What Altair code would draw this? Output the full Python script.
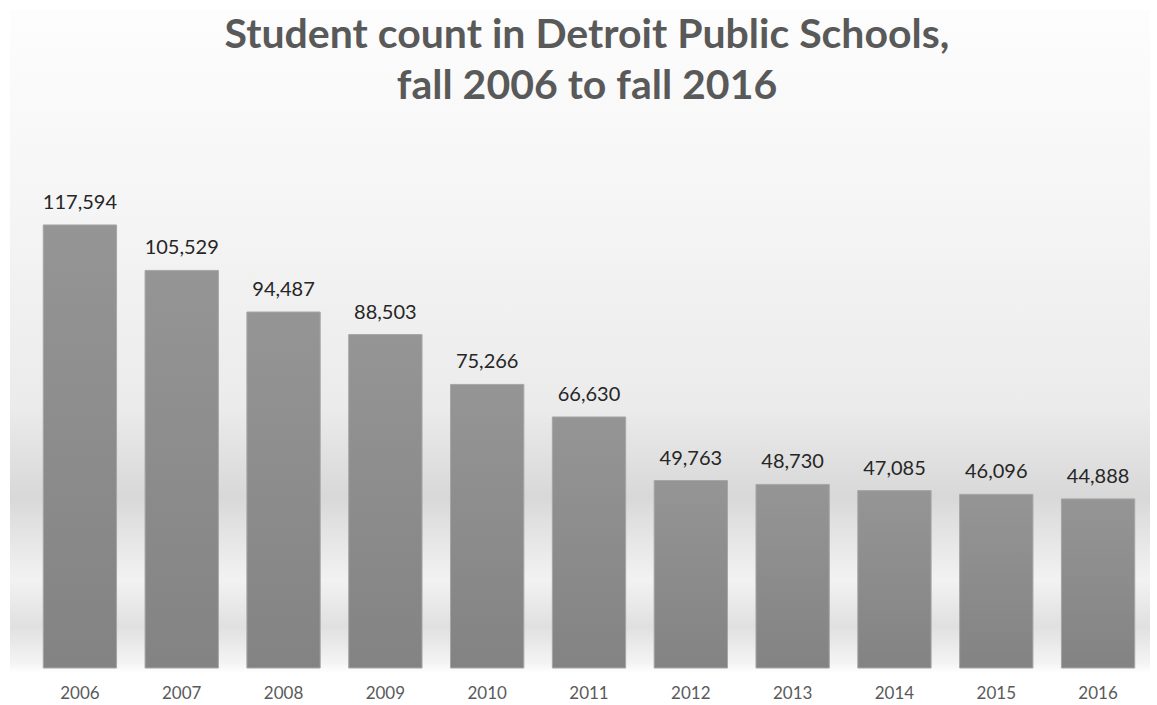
import altair as alt
import pandas as pd

years = ["2006", "2007", "2008", "2009", "2010", "2011", "2012", "2013", "2014", "2015", "2016"]
students = [117594, 105529, 94487, 88503, 75266, 66630, 49763, 48730, 47085, 46096, 44888]
labels = ["117,594", "105,529", "94,487", "88,503", "75,266", "66,630", "49,763", "48,730", "47,085", "46,096", "44,888"]
title_lines = ["Student count in Detroit Public Schools,", "fall 2006 to fall 2016"]

df = pd.DataFrame({"year": years, "students": students, "label": labels})

W, H = 1120, 538
PAD_L, PAD_T, PAD_R, PAD_B = 29, 130, 8, 37

bg = alt.Chart(pd.DataFrame({"a": [0]})).mark_rect(
    color=alt.LinearGradient(
        gradient="linear", x1=0, y1=0, x2=0, y2=1,
        stops=[
            alt.GradientStop(offset=0.0, color="#fdfdfd"),
            alt.GradientStop(offset=0.3, color="#f5f5f5"),
            alt.GradientStop(offset=0.6, color="#ebebeb"),
            alt.GradientStop(offset=0.735, color="#d8d8d8"),
            alt.GradientStop(offset=0.78, color="#e2e2e2"),
            alt.GradientStop(offset=0.86, color="#f2f2f2"),
            alt.GradientStop(offset=0.93, color="#e0e0e0"),
            alt.GradientStop(offset=0.985, color="#f4f4f4"),
            alt.GradientStop(offset=1.0, color="#ffffff"),
        ],
    )
).encode(
    x=alt.value(10 - PAD_L), x2=alt.value(W + 1),
    y=alt.value(10 - PAD_T), y2=alt.value(H + 5),
)

title = alt.Chart(pd.DataFrame({"t": title_lines, "i": [0, 1]})).mark_text(
    font="Lato", fontSize=41, fontWeight="bold", color="#595959",
    align="center", baseline="alphabetic",
).encode(
    text="t:N",
    x=alt.value(W / 2 - 2),
    y=alt.Y("i:Q", scale=alt.Scale(domain=[0, 1], range=[48 - PAD_T, 99 - PAD_T], nice=False, zero=False), axis=None),
)

base = alt.Chart(df).encode(
    x=alt.X("year:N", sort=years,
            scale=alt.Scale(paddingInner=0.28, paddingOuter=0.14),
            axis=alt.Axis(title=None, labelAngle=0, domain=False, ticks=False, grid=False,
                          labelFont="Lato", labelFontSize=17, labelColor="#5a5a5a",
                          labelPadding=17)),
    y=alt.Y("students:Q", scale=alt.Scale(domain=[0, 142800], nice=False), axis=None),
)

bars = base.mark_bar(
    color=alt.LinearGradient(
        gradient="linear", x1=0, y1=0, x2=0, y2=1,
        stops=[alt.GradientStop(offset=0, color="#959595"),
               alt.GradientStop(offset=1, color="#838383")],
    ),
    stroke="#a6a6a6", strokeWidth=1,
)

text = base.mark_text(
    baseline="bottom", dy=-12, font="Lato", fontSize=20, color="#262626"
).encode(text="label:N")

chart = alt.layer(bg, bars, text, title).resolve_scale(y="independent").properties(
    width=W, height=H,
    autosize=alt.AutoSizeParams(type="none"),
    padding={"left": PAD_L, "top": PAD_T, "right": PAD_R, "bottom": PAD_B},
    background="#ffffff",
).configure_view(stroke=None)

chart.save("out.html", embed_options={"renderer": "svg", "actions": False})
